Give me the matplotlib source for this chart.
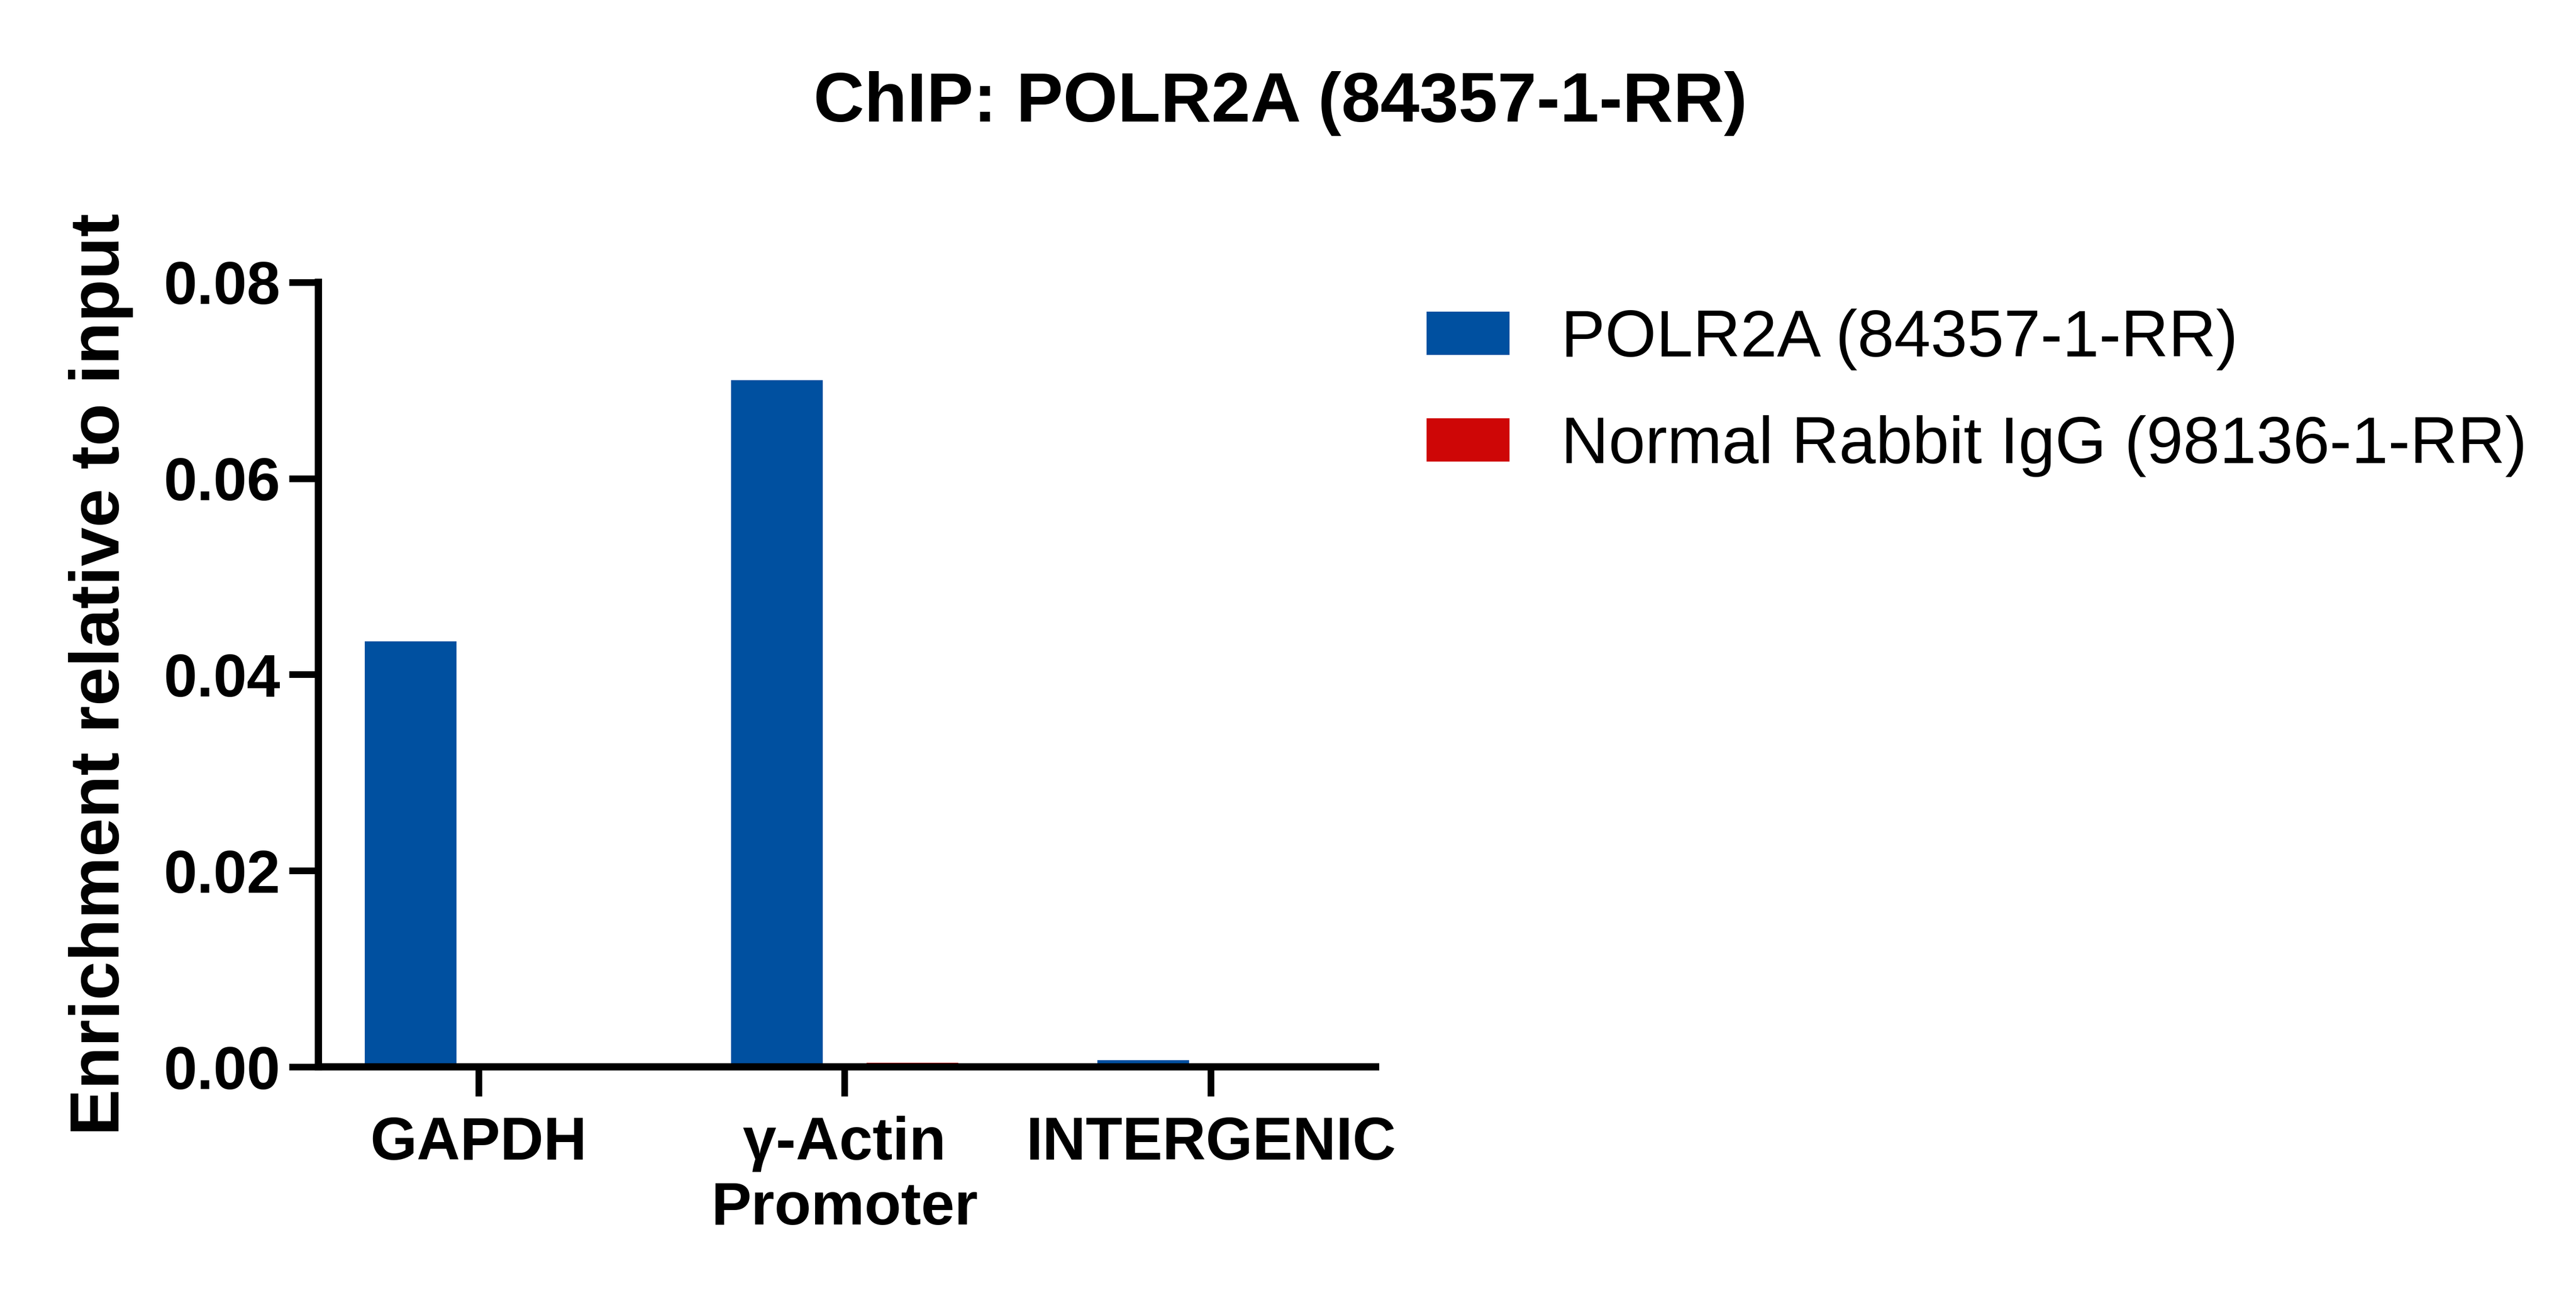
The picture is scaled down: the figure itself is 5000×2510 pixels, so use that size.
import numpy as np
from matplotlib import pyplot as plt
from matplotlib.ticker import FormatStrFormatter

plt.rcParams['font.family'] = ['Liberation Sans', 'DejaVu Sans']

targets = ["GAPDH", "γ-Actin\nPromoter", "INTERGENIC"]
polr2a = [0.0434, 0.0700, 0.00070]
igg = [0.0001, 0.00042, 0.00005]
series_names = ["POLR2A (84357-1-RR)", "Normal Rabbit IgG (98136-1-RR)"]
series_colors = ["#0050A0", "#CE0606"]

fig = plt.figure(figsize=(5000 / 300, 2510 / 300), dpi=300)
ax = fig.add_axes([0.1236, 0.1749, 0.534 - 0.1236, 0.7817 - 0.1749])

x = np.arange(len(targets))
w = 0.25
ax.bar(x - 0.185, polr2a, w, color=series_colors[0], label=series_names[0])
ax.bar(x + 0.185, igg, w, color=series_colors[1], label=series_names[1])

ax.set_xlim(-0.437, 2.45)
ax.set_ylim(0, 0.08)
ax.set_yticks([0, 0.02, 0.04, 0.06, 0.08])
ax.yaxis.set_major_formatter(FormatStrFormatter('%.2f'))
ax.set_xticks(x)
ax.set_xticklabels(targets, fontsize=28, fontweight='bold', linespacing=1.2)
for lab in ax.get_yticklabels():
    lab.set_fontsize(28)
    lab.set_fontweight('bold')

for s in ['top', 'right']:
    ax.spines[s].set_visible(False)
for s in ['left', 'bottom']:
    ax.spines[s].set_linewidth(3.4)
ax.tick_params(axis='both', width=3.1, length=13.7)
ax.tick_params(axis='x', pad=9)
ax.tick_params(axis='y', pad=4)

ax.set_ylabel("Enrichment relative to input", fontsize=32.5, fontweight='bold', labelpad=14)

fig.text(0.497, 0.906, "ChIP: POLR2A (84357-1-RR)", fontsize=32.7,
         fontweight='bold', ha='center', va='baseline')

ax.legend(loc='upper left', bbox_to_anchor=(2769 / 5000, 1 - 599 / 2510),
          bbox_transform=fig.transFigure, frameon=False, fontsize=30.7,
          handlelength=1.26, handleheight=0.64, handletextpad=0.78,
          labelspacing=0.68, borderpad=0, borderaxespad=0)

plt.savefig("out.png", dpi=300)
